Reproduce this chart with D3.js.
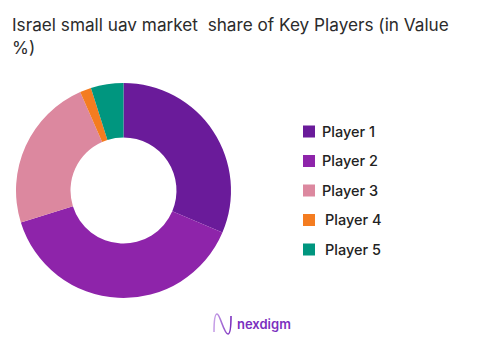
<!DOCTYPE html>
<html><head><meta charset="utf-8">
<script src="https://cdn.jsdelivr.net/npm/d3@7"></script>
<style>body{margin:0;background:#fff;}svg{display:block;}text{white-space:pre;}</style>
</head><body>
<svg id="c" width="501" height="356"></svg>
<script>
const categories = ["Player 1","Player 2","Player 3","Player 4","Player 5"];
const values = [31.4, 38.8, 23.2, 1.7, 4.9];
const colors = ["#6A1B9A","#8E24AA","#DC889F","#F47C20","#00967F"];
const titleLines = ["Israel small uav market  share of Key Players (in Value","%)"];

const svg = d3.select("#c");
const font = "Inter, 'Noto Sans', sans-serif";

svg.selectAll("text.title").data(titleLines).join("text")
  .attr("class","title")
  .attr("x",12).attr("y",(d,i)=>31+i*23)
  .attr("font-family",font).attr("font-size",17.2).attr("fill","#2b2b2b")
  .text(d=>d);

const cx=123.5, cy=190.5, R=107.5, r=53;
const pie = d3.pie().sort(null).value(d=>d)(values);
const arc = d3.arc().innerRadius(r).outerRadius(R);
const g = svg.append("g").attr("transform",`translate(${cx},${cy})`);
g.selectAll("path").data(pie).join("path")
  .attr("d",arc).attr("fill",(d,i)=>colors[i]);

const color = d3.scaleOrdinal().domain(categories).range(colors);
const y = d3.scalePoint().domain(categories).range([131.5,249.5]);
const lg = svg.append("g");
const items = lg.selectAll("g").data(categories).join("g")
  .attr("transform",d=>`translate(303,${y(d)})`);
items.append("rect").attr("x",0).attr("y",-6).attr("width",12).attr("height",12)
  .attr("fill",d=>color(d));
items.append("text").attr("x",(d,i)=>i>=3?22:19).attr("y",0).attr("dy","0.36em")
  .attr("font-family",font).attr("font-size",14.5).attr("font-weight",500).attr("fill","#222")
  .text(d=>d);

// logo
const lgG = svg.append("g");
const grad = svg.append("defs").append("linearGradient").attr("id","lgr").attr("x1","0").attr("x2","1");
grad.append("stop").attr("offset","0").attr("stop-color","#C8A2E8");
grad.append("stop").attr("offset","1").attr("stop-color","#7B2FBE");
lgG.append("path").attr("d","M214,332 C214,318 215,314 217,314 C220,314 224,334 228,334 C230,334 231,328 231,316")
  .attr("fill","none").attr("stroke","url(#lgr)").attr("stroke-width",1.6);
lgG.append("text").attr("x",237).attr("y",328.5).attr("font-family",font)
  .attr("font-size",13).attr("font-weight",600).attr("fill","#7B2FBE").text("nexdigm");
</script>
</body></html>
